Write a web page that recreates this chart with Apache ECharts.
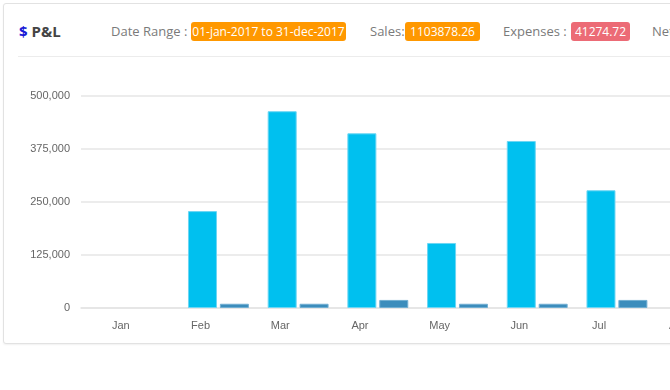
<!DOCTYPE html>
<html>
<head>
<meta charset="utf-8">
<script src="https://cdn.jsdelivr.net/npm/echarts@6/dist/echarts.min.js"></script>
<style>
  html, body { margin: 0; padding: 0; background: #fff; width: 670px; height: 390px; overflow: hidden; }
  #card { position: absolute; left: 3px; top: 3px; width: 900px; height: 339px; border: 1px solid #e2e2e2; border-radius: 3px; box-shadow: 0 1px 2px rgba(0,0,0,0.06); background: #fff; }
  #sep { position: absolute; left: 18px; top: 56px; width: 900px; height: 1px; background: #ececec; }
  .t { position: absolute; font-family: "Open Sans", sans-serif; white-space: nowrap; }
  .lbl { top: 22px; line-height: 19px; font-size: 13px; color: #7a7a7a; }
  .badge { top: 22px; height: 19px; line-height: 19px; font-size: 12px; color: #fff; border-radius: 3px; text-align: center; }
  #chart { position: absolute; left: 0; top: 0; width: 760px; height: 390px; }
</style>
</head>
<body>
<div id="card"></div>
<div id="sep"></div>
<div class="t" style="left:19px; top:21px; line-height:21px; font-size:15px; font-weight:700; color:#444;"><span style="color:#1b1bd6;">$</span> P&amp;L</div>
<div class="t lbl" style="left:111px;">Date Range :</div>
<div class="t badge" style="left:191px; width:155px; background:#ff9800;">01-jan-2017 to 31-dec-2017</div>
<div class="t lbl" style="left:370px;">Sales:</div>
<div class="t badge" style="left:405px; width:75px; background:#ff9800;">1103878.26</div>
<div class="t lbl" style="left:503px;">Expenses :</div>
<div class="t badge" style="left:571px; width:59px; background:#ec6b76;">41274.72</div>
<div class="t lbl" style="left:652px;">Net Profit :</div>
<div id="chart"></div>
<script>
const months = ['Jan', 'Feb', 'Mar', 'Apr', 'May', 'Jun', 'Jul', 'Aug'];
const sales = [0, 228000, 463000, 411000, 153000, 393000, 277000, null];
const expenses = [0, 10000, 10000, 19000, 10000, 10000, 19000, null];
const yMin = 0, yMax = 500000, yStep = 125000;

const chart = echarts.init(document.getElementById('chart'), null, { renderer: 'canvas' });
const axisFont = { fontFamily: 'Arial, "Liberation Sans", sans-serif', fontSize: 11, color: '#666' };
// zero-height bars draw nothing (no outline), as in the reference
const withBorder = (vals, border) => vals.map(v => ({ value: v, itemStyle: { borderWidth: v ? 1 : 0, borderColor: border } }));
chart.setOption({
  animation: false,
  backgroundColor: 'transparent',
  grid: { left: 81, top: 95.5, width: 637.6, height: 212.5, containLabel: false },
  xAxis: {
    type: 'category',
    data: months,
    boundaryGap: true,
    axisLine: { show: true, lineStyle: { color: '#e3e3e3', width: 1.5 } },
    axisTick: { show: false },
    axisLabel: Object.assign({ margin: 12, interval: 0 }, axisFont),
    splitLine: { show: false }
  },
  yAxis: {
    type: 'value',
    min: yMin, max: yMax, interval: yStep,
    axisLine: { show: false },
    axisTick: { show: false },
    axisLabel: Object.assign({ margin: 11, formatter: v => v.toLocaleString('en-US') }, axisFont),
    splitLine: { show: true, lineStyle: { color: '#e6e6e6', width: 1.5 } }
  },
  series: [
    { name: 'offset', type: 'bar', data: [], barWidth: 32.5, barGap: '10%', silent: true, itemStyle: { color: 'transparent' } },
    { name: 'Sales', type: 'bar', data: withBorder(sales, '#6cd6f4'), barWidth: 29, barGap: '10%',
      itemStyle: { color: '#00c0ef' } },
    { name: 'Expenses', type: 'bar', data: withBorder(expenses, '#72afd2'), barWidth: 29, barGap: '10%',
      itemStyle: { color: '#3c8dbc' } }
  ]
});
</script>
</body>
</html>
